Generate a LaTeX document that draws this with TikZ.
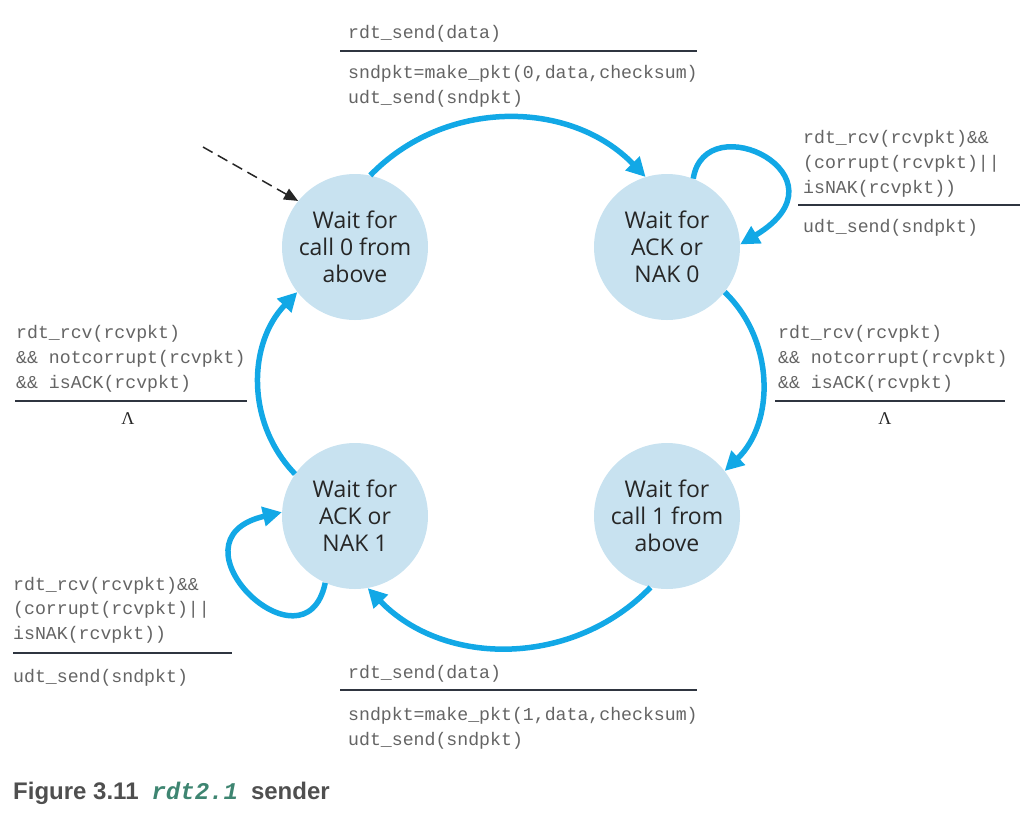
\documentclass[tikz,border=0pt]{standalone}
\usepackage{fontspec}
\setmainfont{Open Sans}
\newfontfamily\monofont{Liberation Mono}
\newfontfamily\capfont{Liberation Sans}
\newfontfamily\lamfont{Liberation Serif}
\usetikzlibrary{arrows.meta}
\definecolor{arrowblue}{HTML}{12A8E6}
\definecolor{statefill}{HTML}{C8E2F0}
\definecolor{labelgray}{HTML}{646464}
\definecolor{rulecol}{HTML}{2F3540}
\definecolor{captgray}{HTML}{4F4F4F}
\definecolor{captalg}{HTML}{3E8571}
\begin{document}
\begin{tikzpicture}[x=1pt,y=1pt,
  state/.style={circle,fill=statefill,minimum size=146pt,inner sep=0pt,align=center,
    font=\fontsize{23}{27}\selectfont,text=black!85},
  trans/.style={draw=arrowblue,line width=5.5pt,-{Triangle[length=19pt,width=19pt]}},
  lbl/.style={anchor=base west,inner sep=0pt,font=\monofont\fontsize{18.2}{24}\selectfont,text=labelgray},
  lam/.style={anchor=base,inner sep=0pt,font=\lamfont\fontsize{18}{18}\selectfont,text=black!85},
  rulel/.style={draw=rulecol,line width=1.4pt},
  initarrow/.style={draw=black!85,line width=1.5pt,dash pattern=on 11pt off 6pt,
    -{Triangle[length=14pt,width=12pt]}},
]
\useasboundingbox (0,0) rectangle (1036,-828);

% states
\node[state] (c0) at (355,-247) {Wait for\\call 0 from\\above};
\node[state] (a0) at (667,-247) {Wait for\\ACK or\\NAK 0};
\node[state] (a1) at (355,-516) {Wait for\\ACK or\\NAK 1};
\node[state] (c1) at (667,-516) {Wait for\\call 1 from\\above};

% transitions
\draw[trans] (c0.78) to[out=46,in=134,looseness=1.0] (a0.107);
\draw[trans] (a0.-38) to[out=-44,in=44,looseness=1.0] (c1.38);
\draw[trans] (c1.-103) to[out=-134,in=-46,looseness=1.0] (a1.-80);
\draw[trans] (a1.145) to[out=134,in=-134,looseness=1.0] (c0.-142);
\draw[trans] (a0.69) to[out=81,in=31,out looseness=2.4,in looseness=4.2] (a0.2);
\draw[trans] (a1.246) to[out=-102,in=193,out looseness=3.0,in looseness=3.8] (a1.177);

% initial arrow
\coordinate (init) at (203,-147);
\draw[initarrow] (init) -- (c0.141);

% top label
\node[lbl] (t1) at (348,-38) {rdt\_send(data)};
\draw[rulel] (340,-51) -- (697,-51);
\node[lbl] (t2) at (348,-78) {sndpkt=make\_pkt(0,data,checksum)};
\node[lbl] (t3) at (348,-103) {udt\_send(sndpkt)};

% right top label
\node[lbl] (r1) at (803,-143) {rdt\_rcv(rcvpkt)\&\&};
\node[lbl] (r2) at (803,-168) {(corrupt(rcvpkt)||};
\node[lbl] (r3) at (803,-193) {isNAK(rcvpkt))};
\draw[rulel] (798,-205) -- (1020,-205);
\node[lbl] (r4) at (803,-232) {udt\_send(sndpkt)};

% right middle label
\node[lbl] (m1) at (778,-338) {rdt\_rcv(rcvpkt)};
\node[lbl] (m2) at (778,-363) {\&\& notcorrupt(rcvpkt)};
\node[lbl] (m3) at (778,-388) {\&\& isACK(rcvpkt)};
\draw[rulel] (775,-401) -- (1005,-401);
\node[lam] (m4) at (885,-424) {Λ};

% left middle label
\node[lbl] (l1) at (16,-338) {rdt\_rcv(rcvpkt)};
\node[lbl] (l2) at (16,-363) {\&\& notcorrupt(rcvpkt)};
\node[lbl] (l3) at (16,-388) {\&\& isACK(rcvpkt)};
\draw[rulel] (15,-401) -- (247,-401);
\node[lam] (l4) at (128,-424) {Λ};

% left bottom label
\node[lbl] (b1) at (13,-590) {rdt\_rcv(rcvpkt)\&\&};
\node[lbl] (b2) at (13,-614) {(corrupt(rcvpkt)||};
\node[lbl] (b3) at (13,-639) {isNAK(rcvpkt))};
\draw[rulel] (13,-653) -- (232,-653);
\node[lbl] (b4) at (13,-682) {udt\_send(sndpkt)};

% bottom label
\node[lbl] (s1) at (348,-678) {rdt\_send(data)};
\draw[rulel] (340,-690) -- (697,-690);
\node[lbl] (s2) at (348,-720) {sndpkt=make\_pkt(1,data,checksum)};
\node[lbl] (s3) at (348,-745) {udt\_send(sndpkt)};

% caption
\node[anchor=base west,inner sep=0pt,text=captgray,font=\capfont\bfseries\fontsize{24}{24}\selectfont]
  (cap) at (13,-799) {Figure 3.11\hspace{13pt}{\monofont\bfseries\itshape\color{captalg}rdt2.1}\hspace{13pt}sender};
\end{tikzpicture}
\end{document}
